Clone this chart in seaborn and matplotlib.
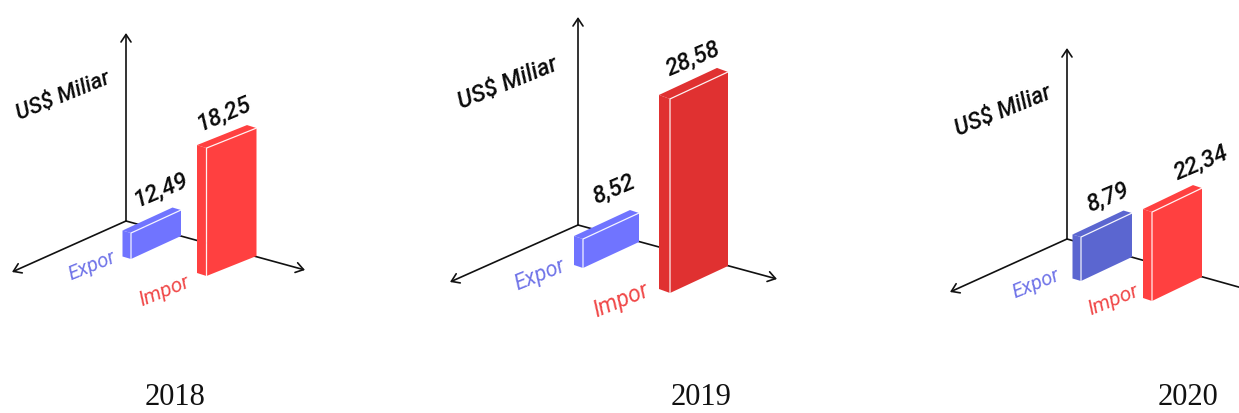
import matplotlib
matplotlib.use("Agg")
import matplotlib.pyplot as plt
from matplotlib.transforms import Affine2D
import seaborn as sns

years = ["2018", "2019", "2020"]
series = ["Expor", "Impor"]
expor_values = [12.49, 8.52, 8.79]
impor_values = [18.25, 28.58, 22.34]

# Each bar in the isometric sketch has its own vertical scale (pixels per US$ billion).
expor_scale = [2.08, 3.40, 5.00]
impor_scale = [7.01, 6.79, 3.98]

# Panel layout, in figure pixels from the top-left corner.
origins = [(126, 221), (578, 225), (1067, 239)]
axis_top = [33, 17, 48]
axis_left = [(12, 272), (450, 282), (950, 292)]
axis_right = [(305, 270), (777, 279), (1260, 293)]
expor_foot = [(131, 259), (583, 268), (1081, 281)]
impor_foot = [(206.5, 276), (670, 293), (1152, 301)]
face_width = [(50, 50), (56, 58), (51, 50)]
face_rise = [(23, 20), (26, 27), (24, 24)]
side_size = [(8.5, 2.5), (9, 3), (8.5, 2.5)]
impor_side = [(9.5, 3), (11, 4), (9, 3)]
expor_colors = ["#7074ff", "#7074ff", "#5b66d0"]
impor_colors = ["#ff4040", "#e03131", "#ff4040"]

title_pos = [(175, 405), (701, 405), (1188, 405)]
unit_pos = [(63, 96), (508, 83), (1003, 111)]
expor_val_pos = [(161, 190), (614, 189), (1108, 197)]
impor_val_pos = [(224, 114), (693, 59), (1201, 163)]
expor_lab_pos = [(92, 266), (540, 275), (1036, 284)]
impor_lab_pos = [(164, 291), (621, 300), (1113, 300)]
unit_size = [16, 17, 16.5]
expor_size = [14.5, 15.5, 14.5]
impor_size = [15, 16.5, 15]

W, H = 1239, 413
sns.set_theme(style="white")
plt.rcParams["font.family"] = ["Roboto", "DejaVu Sans"]

fig = plt.figure(figsize=(W / 100, H / 100), dpi=100, facecolor="white")


def arrow(ax, start, end):
    ax.annotate("", xy=end, xytext=start, zorder=1, annotation_clip=False,
                arrowprops=dict(arrowstyle="->,head_length=0.45,head_width=0.3",
                                color="#111111", lw=1.2, mutation_scale=12,
                                shrinkA=0, shrinkB=0))


def sketch_bar(ax, bar, foot, width, rise, side, scale, color):
    """Shear a bar drawn by seaborn into the front face and add its side and top."""
    x0 = bar.get_x()
    value = bar.get_height()
    bar_w = bar.get_width()
    fx, fy = foot
    to_pixels = Affine2D.from_values(width / bar_w, -rise / bar_w, 0, -scale,
                                     fx - x0 * width / bar_w, fy + x0 * rise / bar_w)
    bar.set_transform(to_pixels + ax.transData)
    bar.set_zorder(3)
    bar.set_edgecolor("none")
    height = value * scale
    top_y = fy - height
    sx, sy = side
    ax.fill([fx, fx - sx, fx - sx, fx], [fy, fy - sy, top_y - sy, top_y],
            color=color, lw=0, zorder=3)
    ax.fill([fx, fx - sx, fx + width - sx, fx + width],
            [top_y, top_y - sy, top_y - rise - sy, top_y - rise],
            color=color, lw=0, zorder=3)
    ax.plot([fx, fx, fx + width], [fy, top_y, top_y - rise],
            color="white", lw=0.9, alpha=0.9, zorder=4, solid_joinstyle="miter")


for i, year in enumerate(years):
    ax = fig.add_axes([0, 0, 1, 1], facecolor="none")
    sns.barplot(x=series, y=[expor_values[i], impor_values[i]], hue=series,
                palette=[expor_colors[i], impor_colors[i]], width=0.8,
                saturation=1, legend=False, ax=ax)
    ax.set_xlim(0, W)
    ax.set_ylim(H, 0)
    ax.set_axis_off()

    ox, oy = origins[i]
    arrow(ax, (ox, oy), (ox, axis_top[i]))
    arrow(ax, (ox, oy), axis_left[i])
    arrow(ax, (ox, oy), axis_right[i])

    bars = list(ax.patches)
    sketch_bar(ax, bars[0], expor_foot[i], face_width[i][0], face_rise[i][0],
               side_size[i], expor_scale[i], expor_colors[i])
    sketch_bar(ax, bars[1], impor_foot[i], face_width[i][1], face_rise[i][1],
               impor_side[i], impor_scale[i], impor_colors[i])

    common = dict(ha="center", va="center", style="italic", zorder=5)
    ax.text(*unit_pos[i], "US$ Miliar", fontsize=unit_size[i], rotation=22,
            weight="medium", color="#0a0a0a", **common)
    ax.text(*expor_val_pos[i], f"{expor_values[i]:.2f}".replace(".", ","),
            fontsize=17, rotation=23, weight="medium", color="#0a0a0a", **common)
    ax.text(*impor_val_pos[i], f"{impor_values[i]:.2f}".replace(".", ","),
            fontsize=17, rotation=23, weight="medium", color="#0a0a0a", **common)
    ax.text(*expor_lab_pos[i], series[0], fontsize=expor_size[i], rotation=22,
            color="#7074e8", **common)
    ax.text(*impor_lab_pos[i], series[1], fontsize=impor_size[i], rotation=22,
            color="#f04848", **common)
    ax.text(*title_pos[i], year, fontsize=22, ha="center", va="baseline",
            family="Liberation Serif", color="#111111")

fig.savefig("out.png", dpi=100)
